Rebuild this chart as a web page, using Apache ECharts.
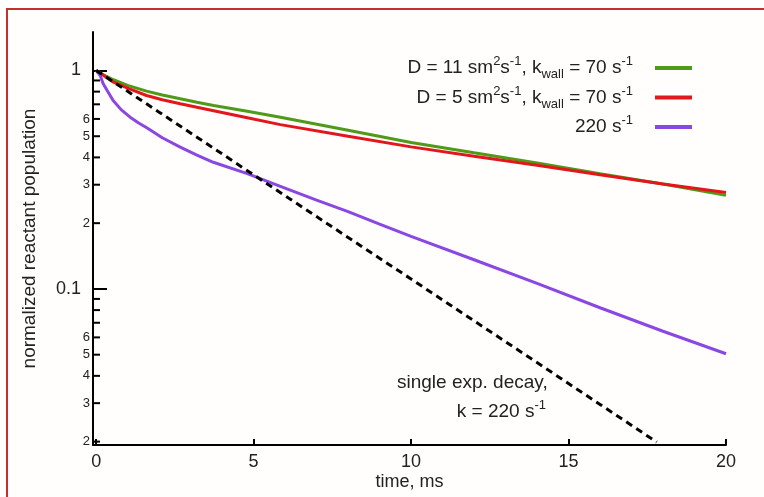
<!DOCTYPE html>
<html>
<head>
<meta charset="utf-8">
<script src="https://cdn.jsdelivr.net/npm/echarts@6/dist/echarts.min.js"></script>
<style>
  html, body { margin: 0; padding: 0; background: #ffffff; }
  #chart { width: 764px; height: 497px; }
</style>
</head>
<body>
<div id="chart"></div>
<script>
// Time axis (ms) for the two diffusion/wall-loss curves
const tDiffusion = [0, 0.25, 0.55, 1, 1.6, 2.1, 2.67, 3.2, 3.73, 4.8, 5.85, 8, 10, 12, 14, 16, 18, 20];
// D = 11 sm^2 s^-1, k_wall = 70 s^-1
const popD11 = [1, 0.952, 0.907, 0.855, 0.804, 0.772, 0.742, 0.715, 0.691, 0.651, 0.611, 0.533, 0.468, 0.42, 0.377, 0.337, 0.302, 0.268];
// D = 5 sm^2 s^-1, k_wall = 70 s^-1
const popD5 = [1, 0.945, 0.884, 0.83, 0.768, 0.735, 0.704, 0.678, 0.654, 0.608, 0.565, 0.50, 0.447, 0.405, 0.368, 0.333, 0.302, 0.276];

// 220 s^-1 curve
const tK220 = [0, 0.13, 0.22, 0.35, 0.54, 0.8, 1.08, 1.35, 1.62, 2.1, 2.67, 3.2, 3.72, 4.8, 5.85, 7, 8, 9, 10, 12, 14, 16, 18, 20];
const popK220 = [1, 0.949, 0.872, 0.81, 0.729, 0.66, 0.611, 0.575, 0.545, 0.492, 0.446, 0.41, 0.38, 0.337, 0.295, 0.255, 0.226, 0.198, 0.174, 0.136, 0.106, 0.082, 0.064, 0.0505];

// single exponential decay, k = 220 s^-1
const tExp = [0, 2, 4, 6, 8, 10, 12, 14, 16, 17.8];
const popExp = [1, 0.644, 0.415, 0.267, 0.172, 0.111, 0.0714, 0.046, 0.0296, 0.0199];

// Axis ticks
const xTicks = [0, 5, 10, 15, 20];
const yMajorTicks = [1, 0.1];
const yMinorTicks = [0.9, 0.8, 0.7, 0.6, 0.5, 0.4, 0.3, 0.2, 0.09, 0.08, 0.07, 0.06, 0.05, 0.04, 0.03, 0.02];
const yLabelValues = [1, 0.6, 0.5, 0.4, 0.3, 0.2, 0.1, 0.06, 0.05, 0.04, 0.03, 0.02];

const seriesNames = ['d11', 'd5', 'k220'];
const legendLabels = {
  d11: 'D = 11 sm{sup|2}s{sup|-1}, k{sub|wall} = 70 s{sup|-1}',
  d5: 'D = 5 sm{sup|2}s{sup|-1}, k{sub|wall} = 70 s{sup|-1}',
  k220: '220 s{sup|-1}'
};

const FONT = '"Liberation Sans", Arial, sans-serif';
const TEXT = '#222222';

const X_MIN = -0.1;
const X_MAX = 20;
const Y_MIN = 0.0193;
const Y_MAX = 1.5;
const MINOR_TICK_LEN = 7;

function pairs(xs, ys) {
  return xs.map((x, i) => [x, ys[i]]);
}

const richScript = {
  sup: { fontFamily: FONT, fontSize: 13, color: TEXT, lineHeight: 14, verticalAlign: 'top' },
  sub: { fontFamily: FONT, fontSize: 13, color: TEXT, lineHeight: 14, verticalAlign: 'bottom' },
  base: { fontFamily: FONT, fontSize: 19, color: TEXT, lineHeight: 26 }
};

function wrapBase(s) {
  // put the plain parts into base tokens so all share the line height
  return s.replace(/(^|\})([^{]+)/g, (m, p, txt) => p + '{base|' + txt + '}');
}

const chart = echarts.init(document.getElementById('chart'), null, { renderer: 'canvas' });

const lineCommon = { type: 'line', showSymbol: false, symbol: 'none', smooth: false, z: 3 };

chart.setOption({
  backgroundColor: '#ffffff',
  animation: false,
  grid: { left: 93, right: 38, top: 32, bottom: 52, outerBoundsMode: 'none' },
  legend: {
    data: seriesNames,
    orient: 'vertical',
    right: 67,
    top: 50,
    padding: 5,
    align: 'right',
    icon: 'rect',
    itemWidth: 37,
    itemHeight: 4,
    itemGap: 3.5,
    selectedMode: false,
    formatter: name => wrapBase(legendLabels[name]),
    textStyle: {
      fontFamily: FONT, fontSize: 19, color: TEXT,
      padding: [0, 17, 0, 0],
      rich: richScript
    }
  },
  xAxis: {
    type: 'value',
    min: X_MIN,
    max: X_MAX,
    name: 'time, ms',
    nameLocation: 'middle',
    nameGap: 28,
    nameMoveOverlap: false,
    nameTextStyle: { fontFamily: FONT, fontSize: 18, color: TEXT },
    axisLine: { show: true, onZero: false, lineStyle: { color: '#000', width: 2 } },
    axisTick: { show: true, inside: true, length: 6, customValues: xTicks, lineStyle: { color: '#000', width: 2 } },
    axisLabel: { customValues: xTicks, fontFamily: FONT, fontSize: 18, color: TEXT, margin: 8 },
    splitLine: { show: false }
  },
  yAxis: {
    type: 'log',
    min: Y_MIN,
    max: Y_MAX,
    position: 'left',
    name: 'normalized reactant population',
    nameLocation: 'middle',
    nameGap: 54,
    nameMoveOverlap: false,
    nameTextStyle: { fontFamily: FONT, fontSize: 19, color: TEXT },
    axisLine: { show: true, onZero: false, lineStyle: { color: '#000', width: 2 } },
    axisTick: { show: true, inside: true, length: 14, customValues: yMajorTicks, lineStyle: { color: '#000', width: 2 } },
    axisLabel: {
      customValues: yLabelValues,
      margin: 3,
      fontFamily: FONT,
      color: TEXT,
      formatter: v => {
        const e = Math.floor(Math.log10(v) + 1e-9);
        const d = Math.round(v / Math.pow(10, e));
        if (d === 1) return '{maj|' + (e === 0 ? '1' : '0.1') + '}';
        return '{mnr|' + d + '}';
      },
      rich: {
        maj: { fontFamily: FONT, fontSize: 18, color: TEXT, padding: [0, 9, 0, 0] },
        mnr: { fontFamily: FONT, fontSize: 13, color: TEXT }
      }
    },
    splitLine: { show: false },
    minorTick: { show: false }
  },
  graphic: [
    {
      type: 'rect',
      silent: true,
      z: -1,
      shape: { x: 7, y: 9, width: 800, height: 600 },
      style: { fill: '#fffefd', stroke: '#c4302b', lineWidth: 2 }
    },
    {
      type: 'text',
      silent: true,
      x: 397, y: 383,
      style: { text: 'single exp. decay,', font: '19px ' + FONT, fill: TEXT, verticalAlign: 'middle' }
    },
    {
      type: 'text',
      silent: true,
      x: 546, y: 412,
      style: {
        text: wrapBase('k = 220 s{sup|-1}'),
        fill: TEXT,
        align: 'right',
        verticalAlign: 'middle',
        rich: richScript
      }
    }
  ],
  series: [
    Object.assign({}, lineCommon, {
      name: 'd11', data: pairs(tDiffusion, popD11),
      itemStyle: { color: '#4f9a18' }, lineStyle: { color: '#4f9a18', width: 3 }
    }),
    Object.assign({}, lineCommon, {
      name: 'd5', data: pairs(tDiffusion, popD5),
      itemStyle: { color: '#e3171b' }, lineStyle: { color: '#e3171b', width: 3 }
    }),
    Object.assign({}, lineCommon, {
      name: 'k220', data: pairs(tK220, popK220),
      itemStyle: { color: '#8b47e2' }, lineStyle: { color: '#8b47e2', width: 3 }
    }),
    Object.assign({}, lineCommon, {
      name: 'exp', data: pairs(tExp, popExp),
      itemStyle: { color: '#000' }, lineStyle: { color: '#000', width: 3, type: [7, 5] }
    }),
    {
      // short intermediate ticks on the log axis (2..9 in each decade)
      name: 'minorTicks',
      type: 'custom',
      silent: true,
      clip: false,
      z: 4,
      data: yMinorTicks.map(v => [X_MIN, v]),
      renderItem: (params, api) => {
        const p = api.coord([api.value(0), api.value(1)]);
        return {
          type: 'line',
          shape: { x1: p[0], y1: p[1], x2: p[0] + MINOR_TICK_LEN, y2: p[1] },
          style: { stroke: '#000', lineWidth: 2 }
        };
      }
    }
  ]
});
</script>
</body>
</html>
